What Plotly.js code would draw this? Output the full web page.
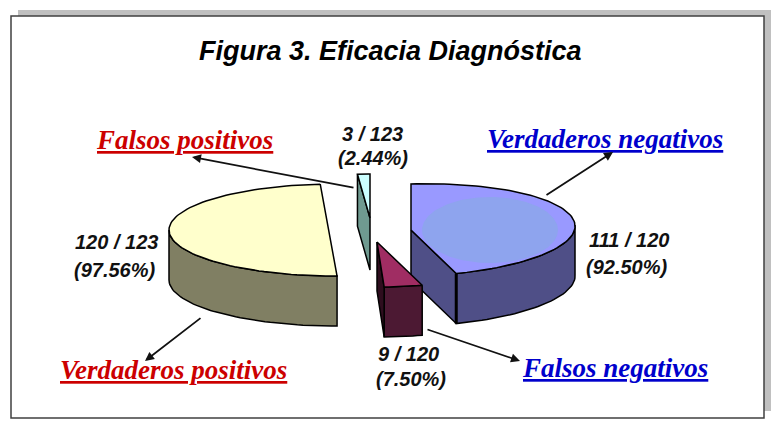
<!DOCTYPE html>
<html><head><meta charset="utf-8">
<script src="https://cdn.plot.ly/plotly-3.0.1.min.js"></script>
<style>html,body{margin:0;padding:0;background:#fff}</style></head>
<body><div id="c" style="width:780px;height:432px"></div>
<script>
// --- data ---
const chartTitle = "Figura 3. Eficacia Diagnóstica";
const categories = ["Verdaderos positivos", "Falsos positivos", "Verdaderos negativos", "Falsos negativos"];
const counts     = [120, 3, 111, 9];
const totals     = [123, 123, 120, 120];
const percents   = ["97.56%", "2.44%", "92.50%", "7.50%"];
const nameColors = ["#cc0000", "#cc0000", "#0000cc", "#0000cc"];
const topColors  = ["#ffffcc", "#ccffff", "#9999ff", "#a02d63"];
const wallColors = ["#807f63", "#6f9a90", "#4f4f87", "#4c1933"];

// --- half-pie geometry: each half of the disc is shared out by count/total ---
const share = i => 180 * counts[i] / totals[i];
const rad = d => d * Math.PI / 180;
function arc(p, a0, a1) {
  const pts = [], n = Math.max(8, Math.ceil(Math.abs(a1 - a0) / 2));
  for (let k = 0; k <= n; k++) {
    const t = rad(a0 + (a1 - a0) * k / n);
    pts.push([p.cx + p.rx * Math.cos(t) + (p.skew || 0) * (1 - Math.sin(t)),
              p.cy - p.ry * Math.sin(t) - (p.tilt || 0) * Math.cos(t)]);
  }
  return pts;
}
const traces = [];
function poly(pts, fill, lw, lc) {
  const closed = pts.concat([pts[0]]);
  traces.push({type:"scatter", mode:"lines", x:closed.map(q=>q[0]), y:closed.map(q=>q[1]),
    fill:"toself", fillcolor:fill, line:{color:lc||"#000", width:lw===undefined?1.5:lw, shape:"linear"},
    hoverinfo:"skip", showlegend:false});
}
const down = (pts, d) => pts.map(q => [q[0], q[1] + d]);
function wall(pts, d, color) { poly(pts.concat(down(pts, d).reverse()), color); }

// Yellow: true positives (the cut edge is drawn straight, as in the picture)
const py = {cx:335, cy:230, rx:166, ry:46};
const yStart = 95.1, yEnd = yStart + share(0);
wall(arc(py, 180, yEnd), 50, wallColors[0]);
poly(arc(py, yStart, yEnd), topColors[0]);

// Cyan sliver: false positives
const pc = {cx:370, cy:218, rx:164, ry:44};
const cStart = 90, cEnd = cStart + share(1);
wall([[pc.cx,pc.cy]].concat(arc(pc, cEnd, cEnd)), 52, wallColors[1]);
poly([[pc.cx,pc.cy]].concat(arc(pc, cStart, cEnd)), topColors[1]);

// Blue: true negatives
const pb = {cx:411, cy:230, rx:160, ry:46, skew:4, tilt:5};
const bStart = 90, bEnd = bStart - share(2);
wall(arc(pb, 0, bEnd), 50, wallColors[2]);
wall([[pb.cx,pb.cy]].concat(arc(pb, bEnd, bEnd)), 50, wallColors[2]);
poly([[pb.cx,pb.cy]].concat(arc(pb, bStart, bEnd)), topColors[2]);
// lighter inner glow on the blue top
const glow = {cx:490, cy:230, rx:68, ry:33};
poly(arc(glow, 0, 360), "#8ea4ee", 0, "rgba(0,0,0,0)");
// thick front corner
const corner = arc(pb, bEnd, bEnd)[0];
traces.push({type:"scatter", mode:"lines", x:[corner[0],corner[0]], y:[corner[1],corner[1]+50],
  line:{color:"#000", width:3}, hoverinfo:"skip", showlegend:false});

// Maroon: false negatives
const pm = {cx:377, cy:242, rx:164, ry:45};
const mStart = -74, mEnd = mStart - share(3);
wall(arc(pm, mStart, mEnd), 50, wallColors[3]);
const mLeft = arc(pm, mEnd, mEnd)[0];
poly([[pm.cx,pm.cy],[pm.cx,pm.cy+49],[mLeft[0],mLeft[1]+50],mLeft], "#2e0d1e");
poly([[pm.cx,pm.cy]].concat(arc(pm, mStart, mEnd)), topColors[3]);

// --- text ---
const A = [];
function txt(s, x, y, size, family, color, under) {
  A.push({text:s, x:x, y:y, xref:"x", yref:"y", showarrow:false, xanchor:"center", yanchor:"middle",
    font:{family:family, size:size, color:color, style:"italic", weight:"bold", lineposition:under?"under":"none"}});
}
const sans = "Liberation Sans, Arial, sans-serif", serif = "Liberation Serif, Times New Roman, serif";
txt(chartTitle, 390, 51, 27, sans, "#000");
const namePos = [[173,370],[184,140],[605,139],[615,368]];
categories.forEach((c,i)=>txt(c, namePos[i][0], namePos[i][1], 27, serif, nameColors[i], true));
const fracPos = [[116,242],[372,134],[629,240],[408,354]];
const pctPos  = [[114,270],[373,158],[626,267],[411,379]];
counts.forEach((v,i)=>{
  txt(v+" / "+totals[i], fracPos[i][0], fracPos[i][1], 20, sans, "#111");
  txt("("+percents[i]+")", pctPos[i][0], pctPos[i][1], 20, sans, "#111");
});

// --- leader arrows (tip, tail) ---
const arrows = [[[145,361],[202,317]],[[192,157],[355,188]],[[613,152],[545,196]],[[520,361],[426,329]]];
arrows.forEach(a=>A.push({x:a[0][0], y:a[0][1], ax:a[1][0], ay:a[1][1], xref:"x", yref:"y", axref:"x", ayref:"y",
  text:"", showarrow:true, arrowhead:2, arrowsize:1, arrowwidth:1.8, arrowcolor:"#111"}));

const layout = {
  width:780, height:432, margin:{l:0,r:0,t:0,b:0}, paper_bgcolor:"#fff", plot_bgcolor:"#fff", showlegend:false,
  xaxis:{range:[0,780], visible:false, fixedrange:true},
  yaxis:{range:[432,0], visible:false, fixedrange:true},
  annotations:A,
  shapes:[
    {type:"rect", xref:"x", yref:"y", x0:18, y0:10, x1:771, y1:411, fillcolor:"#c0c0c0", line:{width:0}, layer:"below"},
    {type:"rect", xref:"x", yref:"y", x0:11, y0:16, x1:764, y1:418, fillcolor:"#fff", line:{color:"#404040", width:1.5}, layer:"below"}
  ]
};
Plotly.newPlot("c", traces, layout, {displayModeBar:false, staticPlot:true});
</script></body></html>
